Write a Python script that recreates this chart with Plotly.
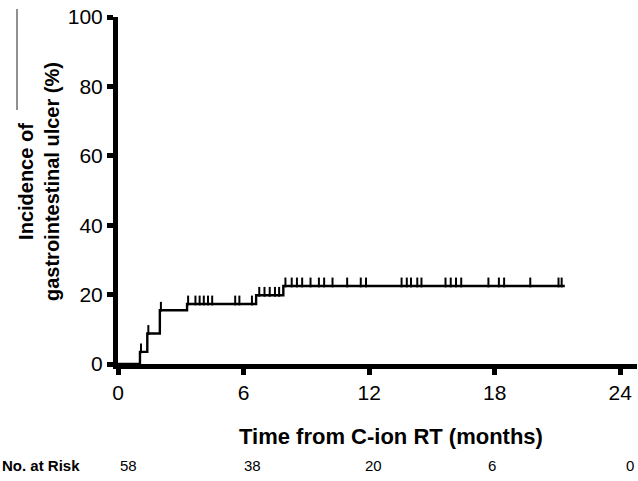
import numpy as np
import plotly.graph_objects as go

# ---- data ----
event_times = [1.05, 1.4, 2.0, 3.3, 6.6, 7.9]          # months
event_levels = [3.5, 8.8, 15.5, 17.3, 19.8, 22.5]      # cumulative incidence (%)
follow_up_end = 21.35                                   # months

censor_times = [1.1, 1.45, 2.05, 3.35, 3.7, 3.9, 4.1, 4.3, 4.5, 5.6, 5.8, 6.4,
                6.75, 7.0, 7.25, 7.5, 7.7, 8.0, 8.3, 8.55, 8.8, 9.2, 9.6, 9.85,
                10.25, 10.95, 11.6, 11.85, 13.55, 13.8, 14.0, 14.3, 14.5, 15.65,
                15.9, 16.15, 16.4, 17.7, 18.2, 18.45, 19.7, 21.05, 21.2]

x_ticks = [0, 6, 12, 18, 24]
y_ticks = [0, 20, 40, 60, 80, 100]
at_risk_times = [0, 6, 12, 18, 24]
at_risk_counts = [58, 38, 20, 6, 0]

# ---- build step curve ----
step_x = [0] + event_times + [follow_up_end]
step_y = [0] + event_levels + [event_levels[-1]]

def level_at(t):
    idx = np.searchsorted(np.array(event_times), t, side="right")
    return 0 if idx == 0 else event_levels[idx - 1]

censor_y = [level_at(t) + 1.0 for t in censor_times]

FONT = "Liberation Sans, Arial, sans-serif"

fig = go.Figure()
fig.add_trace(go.Scatter(x=step_x, y=step_y, mode="lines", line_shape="hv",
                         line=dict(color="black", width=2.4), showlegend=False,
                         hoverinfo="skip"))
fig.add_trace(go.Scatter(x=censor_times, y=censor_y, mode="markers",
                         marker=dict(symbol="line-ns", size=7,
                                     line=dict(color="black", width=2)),
                         showlegend=False, hoverinfo="skip"))

L, R, T, B = 118, 1, 17, 117
W, H = 638, 481
pw = W - L - R
ph = H - T - B

def px_x(px):
    return (px - L) / pw

def px_y(py):
    return (H - B - py) / ph

annotations = [
    dict(text="<b>Time from C-ion RT (months)</b>", xref="paper", yref="paper",
         x=px_x(391), y=px_y(436), showarrow=False,
         font=dict(family=FONT, size=22, color="black"),
         xanchor="center", yanchor="middle"),
    dict(text="<b>Incidence of<br>gastrointestinal ulcer (%)</b>", xref="paper",
         yref="paper", x=px_x(39), y=px_y(182), showarrow=False, textangle=-90,
         font=dict(family=FONT, size=20, color="black"),
         xanchor="center", yanchor="middle"),
    dict(text="<b>No. at Risk</b>", xref="paper", yref="paper",
         x=px_x(0), y=px_y(465), showarrow=False,
         font=dict(family=FONT, size=15, color="black"),
         xanchor="left", yanchor="middle"),
]
risk_shift = [10, 9, 4, -3, 10]
for t, n, s in zip(at_risk_times, at_risk_counts, risk_shift):
    annotations.append(dict(text=str(n), xref="x", yref="paper", x=t, xshift=s,
                            y=px_y(465), showarrow=False,
                            font=dict(family=FONT, size=15, color="black"),
                            xanchor="center", yanchor="middle"))

fig.update_layout(
    width=W, height=H,
    margin=dict(l=L, r=R, t=T, b=B, pad=0),
    paper_bgcolor="white", plot_bgcolor="white",
    font=dict(family=FONT, color="black"),
    annotations=annotations,
    hovermode=False,
    shapes=[dict(type="line", xref="paper", yref="paper",
                 x0=px_x(17), x1=px_x(17), y0=px_y(110), y1=px_y(9),
                 line=dict(color="#222", width=1))],
)
fig.update_xaxes(range=[0, 24.8], tickvals=x_ticks, ticktext=[str(v) for v in x_ticks],
                 showline=True, linewidth=5, linecolor="black",
                 ticks="outside", ticklen=6, tickwidth=5, tickcolor="black",
                 showgrid=False, zeroline=False, automargin=False,
                 tickfont=dict(family=FONT, size=21, color="black"))
fig.update_yaxes(range=[0, 100], tickvals=y_ticks, ticktext=[str(v) for v in y_ticks],
                 showline=True, linewidth=5, linecolor="black",
                 ticks="outside", ticklen=6, tickwidth=5, tickcolor="black",
                 showgrid=False, zeroline=False, automargin=False,
                 tickfont=dict(family=FONT, size=21, color="black"))

fig.write_html("out.html", config={"displayModeBar": False},
               post_script="document.body.style.margin='0';document.body.style.padding='0';")
